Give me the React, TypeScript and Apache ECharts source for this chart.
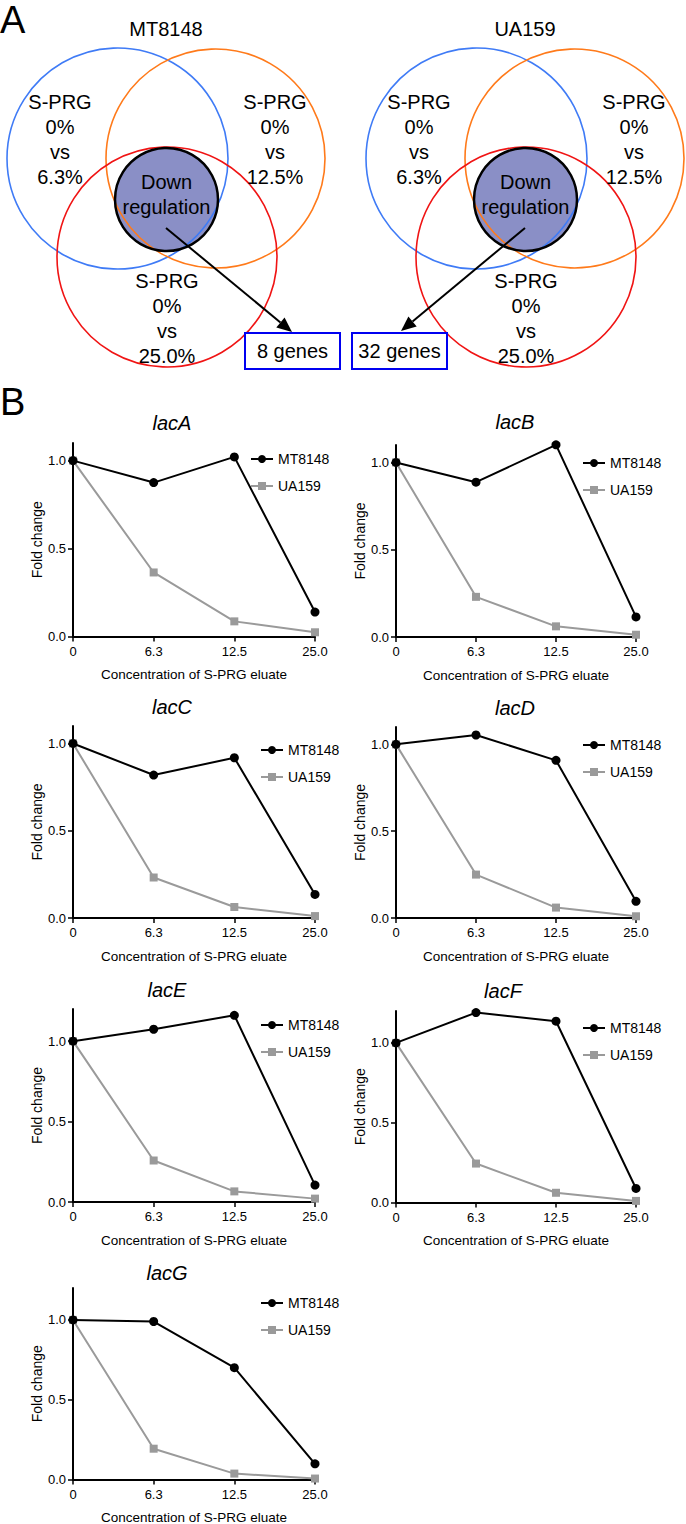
import React, { useEffect, useRef } from "react";
import * as echarts from "echarts";

// ---------- data ----------
const concentrations = ["0", "6.3", "12.5", "25.0"];
const strains = ["MT8148", "UA159"];
const yTicks = [0, 0.5, 1.0];

const lacA_MT8148 = [1.0, 0.875, 1.021, 0.139];
const lacA_UA159 = [1.0, 0.364, 0.086, 0.024];
const lacB_MT8148 = [1.0, 0.887, 1.101, 0.115];
const lacB_UA159 = [1.0, 0.23, 0.061, 0.013];
const lacC_MT8148 = [1.0, 0.819, 0.918, 0.135];
const lacC_UA159 = [1.0, 0.232, 0.063, 0.011];
const lacD_MT8148 = [1.0, 1.054, 0.908, 0.096];
const lacD_UA159 = [1.0, 0.25, 0.06, 0.01];
const lacE_MT8148 = [1.0, 1.074, 1.161, 0.105];
const lacE_UA159 = [1.0, 0.258, 0.066, 0.021];
const lacF_MT8148 = [1.0, 1.19, 1.136, 0.088];
const lacF_UA159 = [1.0, 0.244, 0.061, 0.01];
const lacG_MT8148 = [1.0, 0.99, 0.701, 0.098];
const lacG_UA159 = [1.0, 0.193, 0.037, 0.006];

const genes = ["lacA", "lacB", "lacC", "lacD", "lacE", "lacF", "lacG"];
const mtSeries = [lacA_MT8148, lacB_MT8148, lacC_MT8148, lacD_MT8148, lacE_MT8148, lacF_MT8148, lacG_MT8148];
const uaSeries = [lacA_UA159, lacB_UA159, lacC_UA159, lacD_UA159, lacE_UA159, lacF_UA159, lacG_UA159];
const yMaxes = [1.1, 1.1, 1.1, 1.1, 1.2, 1.2, 1.2];

const vennTitles = ["MT8148", "UA159"];
const geneCounts = ["8 genes", "32 genes"];
const comparisonLabels = ["S-PRG\n0%\nvs\n6.3%", "S-PRG\n0%\nvs\n12.5%", "S-PRG\n0%\nvs\n25.0%"];
const centerLabel = "Down\nregulation";
const xAxisName = "Concentration of S-PRG eluate";
const yAxisName = "Fold change";

// ---------- layout ----------
const FONT = "'Liberation Sans', Arial, Helvetica, sans-serif";

const panels = [
  { left: 73, top: 443, width: 242, height: 193.5, legendLeft: 250, legendTop: 452, titleX: 172, titleY: 423 },
  { left: 396, top: 445, width: 240, height: 192, legendLeft: 582, legendTop: 456, titleX: 515, titleY: 422 },
  { left: 73, top: 726, width: 242, height: 192, legendLeft: 260, legendTop: 743, titleX: 172, titleY: 707 },
  { left: 396, top: 727, width: 240, height: 191, legendLeft: 582, legendTop: 738, titleX: 515, titleY: 708 },
  { left: 73, top: 1009, width: 242, height: 193, legendLeft: 260, legendTop: 1018, titleX: 167, titleY: 990 },
  { left: 396, top: 1011, width: 240, height: 191.5, legendLeft: 582, legendTop: 1021, titleX: 503, titleY: 991 },
  { left: 73, top: 1288, width: 242, height: 191.5, legendLeft: 260, legendTop: 1296, titleX: 167, titleY: 1273 },
];

const vennLayout = [
  { dx: 0, arrowFrom: [166, 228], arrowTo: [292, 332], box: [245, 333, 95, 36] },
  { dx: 359, arrowFrom: [525, 228], arrowTo: [401, 331], box: [352, 333, 95, 36] },
];

function arrow(from: number[], to: number[]) {
  const [x1, y1] = from;
  const [x2, y2] = to;
  const len = Math.hypot(x2 - x1, y2 - y1);
  const ux = (x2 - x1) / len;
  const uy = (y2 - y1) / len;
  const hl = 15;
  const hw = 6.5;
  const bx = x2 - ux * hl;
  const by = y2 - uy * hl;
  return [
    {
      type: "line",
      shape: { x1, y1, x2: bx, y2: by },
      style: { stroke: "#000", lineWidth: 2 },
      z: 20,
    },
    {
      type: "polygon",
      shape: {
        points: [
          [x2, y2],
          [bx - uy * hw, by + ux * hw],
          [bx + uy * hw, by - ux * hw],
        ],
      },
      style: { fill: "#000" },
      z: 20,
    },
  ];
}

function vennGraphics(i: number) {
  const v = vennLayout[i];
  const dx = v.dx;
  const txt = (x: number, y: number, text: string, size = 20, extra: any = {}) => ({
    type: "text",
    x,
    y,
    z: 30,
    style: {
      text,
      fill: "#000",
      fontSize: size,
      fontFamily: FONT,
      align: "center",
      verticalAlign: "middle",
      lineHeight: 25,
      ...extra,
    },
  });
  const circ = (cx: number, cy: number, r: number, stroke: string, lw: number, fill = "none", z = 10) => ({
    type: "circle",
    shape: { cx: cx + dx, cy, r },
    style: { fill, stroke, lineWidth: lw },
    z,
  });
  const [bx, by, bw, bh] = v.box;
  return [
    txt(166 + dx, 29, vennTitles[i]),
    circ(166.5, 199.5, 51.5, "none", 0, "#8A8FC6", 5),
    circ(117.5, 158.5, 110.5, "#3F7BF6", 1.6),
    circ(215.5, 158.5, 109.5, "#FF7A1A", 1.6),
    circ(167, 257, 110, "#F01414", 1.6),
    circ(166.5, 199.5, 51.5, "#000", 2.5, "none", 12),
    txt(60 + dx, 139.5, comparisonLabels[0]),
    txt(275 + dx, 139.5, comparisonLabels[1]),
    txt(167 + dx, 318, comparisonLabels[2]),
    txt(166.5 + dx, 194.5, centerLabel),
    ...arrow(v.arrowFrom, v.arrowTo),
    {
      type: "rect",
      shape: { x: bx, y: by, width: bw, height: bh },
      style: { fill: "#fff", stroke: "#0000F0", lineWidth: 2 },
      z: 25,
    },
    txt(bx + bw / 2, by + bh / 2, geneCounts[i]),
  ];
}

function buildOption() {
  const axisColor = "#000";
  const grid = panels.map((p) => ({
    left: p.left,
    top: p.top,
    width: p.width,
    height: p.height,
    containLabel: false,
    outerBoundsMode: "none",
  }));
  const xAxis = panels.map((p, i) => ({
    type: "category",
    gridIndex: i,
    data: concentrations,
    boundaryGap: false,
    axisLine: { show: true, onZero: false, lineStyle: { color: axisColor, width: 2 } },
    axisTick: { show: true, alignWithLabel: true, interval: 0, length: 5, lineStyle: { color: axisColor, width: 1.5 } },
    axisLabel: { color: "#000", fontSize: 13, fontFamily: FONT, margin: 8, interval: 0 },
    splitLine: { show: false },
    name: xAxisName,
    nameLocation: "middle",
    nameGap: 31,
    nameTextStyle: { color: "#000", fontSize: 13.5, fontFamily: FONT },
  }));
  const yAxis = panels.map((p, i) => ({
    type: "value",
    gridIndex: i,
    min: 0,
    max: yMaxes[i],
    axisLine: { show: true, lineStyle: { color: axisColor, width: 2 } },
    axisTick: { show: true, length: 5, customValues: yTicks, lineStyle: { color: axisColor, width: 1.5 } },
    axisLabel: {
      customValues: yTicks,
      formatter: (v: number) => v.toFixed(1),
      color: "#000",
      fontSize: 13,
      fontFamily: FONT,
      margin: 7,
    },
    splitLine: { show: false },
    name: yAxisName,
    nameLocation: "middle",
    nameGap: 29,
    nameTextStyle: { color: "#000", fontSize: 14, fontFamily: FONT },
  }));
  const series: any[] = [];
  genes.forEach((g, i) => {
    series.push({
      type: "line",
      name: strains[1],
      xAxisIndex: i,
      yAxisIndex: i,
      data: uaSeries[i],
      symbol: "rect",
      symbolSize: 8,
      showAllSymbol: true,
      clip: false,
      lineStyle: { color: "#9A9A9A", width: 2 },
      itemStyle: { color: "#9A9A9A" },
      z: 2,
    });
    series.push({
      type: "line",
      name: strains[0],
      xAxisIndex: i,
      yAxisIndex: i,
      data: mtSeries[i],
      symbol: "circle",
      symbolSize: 9,
      showAllSymbol: true,
      clip: false,
      lineStyle: { color: "#000", width: 2 },
      itemStyle: { color: "#000" },
      z: 3,
    });
  });
  const legend = panels.map((p) => ({
    left: p.legendLeft,
    top: p.legendTop,
    orient: "vertical",
    itemWidth: 22,
    itemHeight: 10,
    itemGap: 13,
    padding: 0,
    selectedMode: false,
    data: strains,
    textStyle: { color: "#000", fontSize: 14, fontFamily: FONT },
  }));

  const titles = genes.map((g, i) => ({
    type: "text",
    x: panels[i].titleX,
    y: panels[i].titleY,
    style: {
      text: g,
      fill: "#000",
      fontSize: 20,
      fontStyle: "italic",
      fontFamily: FONT,
      align: "center",
      verticalAlign: "middle",
    },
  }));

  const letters = [
    { type: "text", x: 0, y: 20, style: { text: "A", fill: "#000", fontSize: 38, fontFamily: FONT, align: "left", verticalAlign: "middle" } },
    { type: "text", x: 0, y: 402, style: { text: "B", fill: "#000", fontSize: 38, fontFamily: FONT, align: "left", verticalAlign: "middle" } },
  ];

  return {
    animation: false,
    backgroundColor: "#fff",
    grid,
    xAxis,
    yAxis,
    series,
    legend,
    graphic: { elements: [...letters, ...vennGraphics(0), ...vennGraphics(1), ...titles] },
  };
}

export default function App() {
  const ref = useRef<HTMLDivElement>(null);
  useEffect(() => {
    document.body.style.margin = "0";
    const chart = echarts.init(ref.current!, null, { renderer: "svg" });
    chart.setOption(buildOption() as any);
    return () => chart.dispose();
  }, []);
  return <div ref={ref} style={{ width: 686, height: 1524 }} />;
}
